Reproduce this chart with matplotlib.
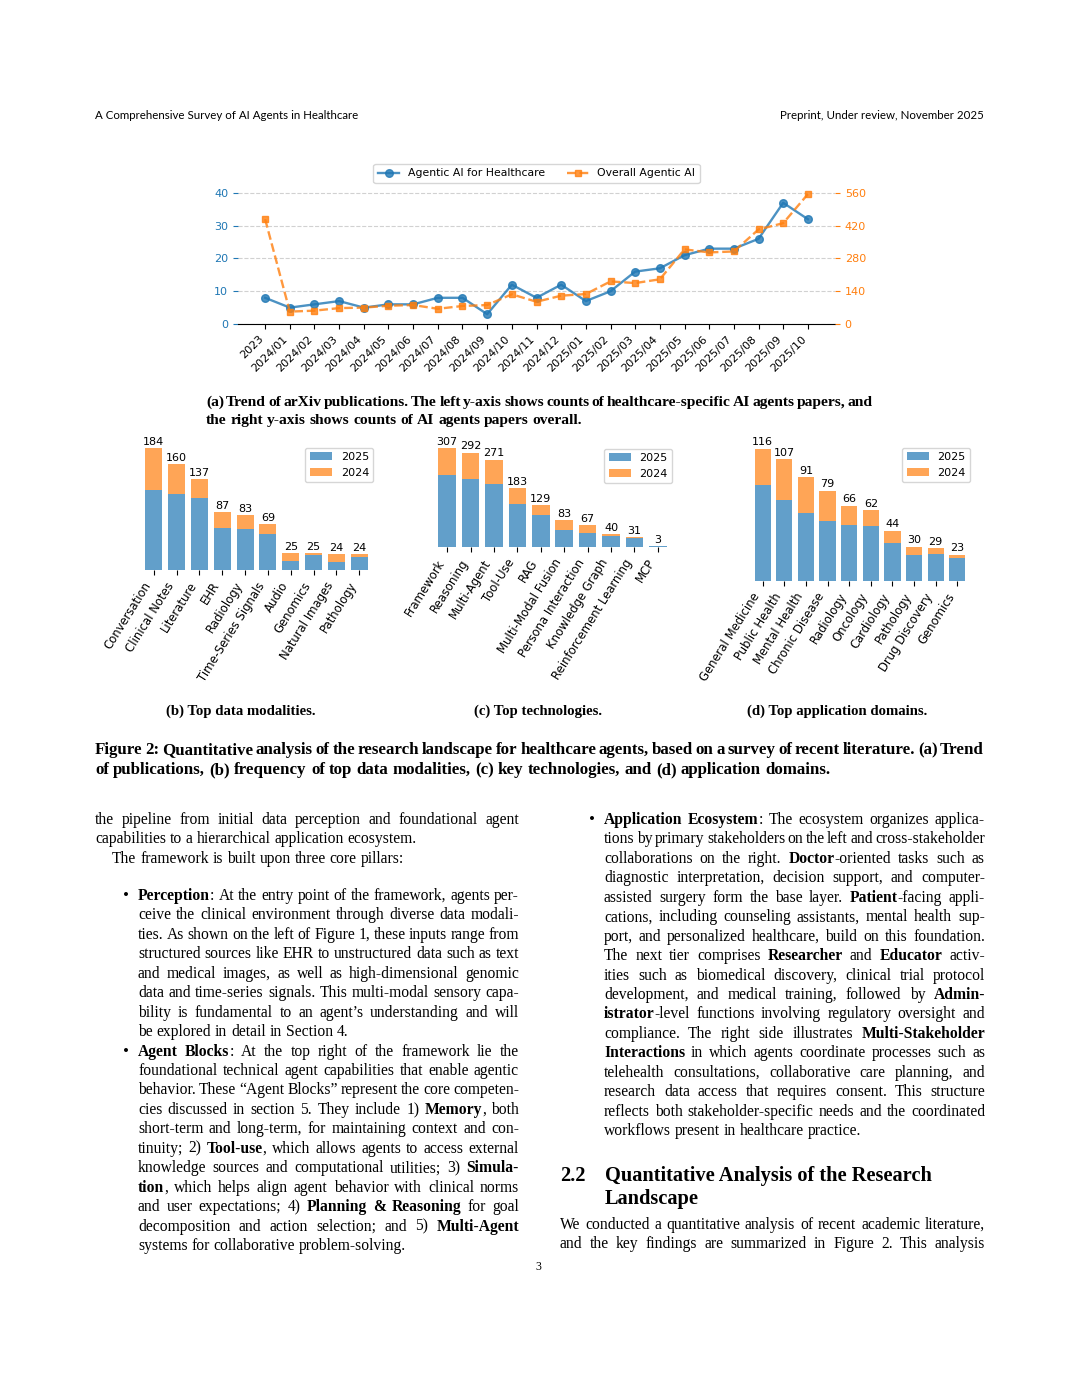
"""
Page 3 of the healthcare agents survey: Figure 2 (publication trend plus three
stacked bar charts) with the surrounding body text.
"""

import numpy as np
import matplotlib.pyplot as plt
from matplotlib import font_manager
from matplotlib.font_manager import FontProperties

# -----------------------------
# DATA
# -----------------------------
months = ['2023', '2024/01', '2024/02', '2024/03', '2024/04', '2024/05', '2024/06',
          '2024/07', '2024/08', '2024/09', '2024/10', '2024/11', '2024/12',
          '2025/01', '2025/02', '2025/03', '2025/04', '2025/05', '2025/06',
          '2025/07', '2025/08', '2025/09', '2025/10']
healthcare_papers = [8, 5, 6, 7, 5, 6, 6, 8, 8, 3, 12, 8, 12,
                     7, 10, 16, 17, 21, 23, 23, 26, 37, 32]
overall_papers = [448, 53, 57, 68, 70, 78, 81, 65, 77, 81, 127, 95, 121,
                  128, 182, 175, 191, 319, 306, 310, 404, 431, 555]

modalities = ['Conversation', 'Clinical Notes', 'Literature', 'EHR', 'Radiology',
              'Time-Series Signals', 'Audio', 'Genomics', 'Natural Images', 'Pathology']
modalities_2025 = [120, 115, 109, 64, 62, 54, 14, 22, 12, 19]
modalities_2024 = [64, 45, 28, 23, 21, 15, 11, 3, 12, 5]

technologies = ['Framework', 'Reasoning', 'Multi-Agent', 'Tool-Use', 'RAG',
                'Multi-Modal Fusion', 'Persona Interaction', 'Knowledge Graph',
                'Reinforcement Learning', 'MCP']
technologies_2025 = [222, 212, 196, 133, 98, 54, 43, 33, 27, 2]
technologies_2024 = [85, 80, 75, 50, 31, 29, 24, 7, 4, 1]

domains = ['General Medicine', 'Public Health', 'Mental Health', 'Chronic Disease',
           'Radiology', 'Oncology', 'Cardiology', 'Pathology', 'Drug Discovery', 'Genomics']
domains_2025 = [84, 71, 60, 53, 49, 48, 33, 23, 24, 20]
domains_2024 = [32, 36, 31, 26, 17, 14, 11, 7, 5, 3]

# -----------------------------
# TEXT (** toggles bold)
# -----------------------------
header_left = 'A Comprehensive Survey of AI Agents in Healthcare'
header_right = 'Preprint, Under review, November 2025'

caption_a = ['(a) Trend of arXiv publications. The left y-axis shows counts of '
             'healthcare-specific AI agents papers, and',
             'the right y-axis shows counts of AI agents papers overall.']
subcaptions = ['(b) Top data modalities.', '(c) Top technologies.',
               '(d) Top application domains.']
figure_caption = ['Figure 2: Quantitative analysis of the research landscape for healthcare '
                  'agents, based on a survey of recent literature. (a) Trend',
                  'of publications, (b) frequency of top data modalities, (c) key '
                  'technologies, and (d) application domains.']

intro_lines = ['the pipeline from initial data perception and foundational agent',
               'capabilities to a hierarchical application ecosystem.']
pillars_line = 'The framework is built upon three core pillars:'

perception_lines = [
    '**Perception**: At the entry point of the framework, agents per-',
    'ceive the clinical environment through diverse data modali-',
    'ties. As shown on the left of Figure 1, these inputs range from',
    'structured sources like EHR to unstructured data such as text',
    'and medical images, as well as high-dimensional genomic',
    'data and time-series signals. This multi-modal sensory capa-',
    'bility is fundamental to an agent’s understanding and will',
    'be explored in detail in Section 4.',
]
blocks_lines = [
    '**Agent Blocks**: At the top right of the framework lie the',
    'foundational technical agent capabilities that enable agentic',
    'behavior. These “Agent Blocks” represent the core competen-',
    'cies discussed in section 5. They include 1) **Memory**, both',
    'short-term and long-term, for maintaining context and con-',
    'tinuity; 2) **Tool-use**, which allows agents to access external',
    'knowledge sources and computational utilities; 3) **Simula-**',
    '**tion**, which helps align agent behavior with clinical norms',
    'and user expectations; 4) **Planning & Reasoning** for goal',
    'decomposition and action selection; and 5) **Multi-Agent**',
    'systems for collaborative problem-solving.',
]
ecosystem_lines = [
    '**Application Ecosystem**: The ecosystem organizes applica-',
    'tions by primary stakeholders on the left and cross-stakeholder',
    'collaborations on the right. **Doctor**-oriented tasks such as',
    'diagnostic interpretation, decision support, and computer-',
    'assisted surgery form the base layer. **Patient**-facing appli-',
    'cations, including counseling assistants, mental health sup-',
    'port, and personalized healthcare, build on this foundation.',
    'The next tier comprises **Researcher** and **Educator** activ-',
    'ities such as biomedical discovery, clinical trial protocol',
    'development, and medical training, followed by **Admin-**',
    '**istrator**-level functions involving regulatory oversight and',
    'compliance. The right side illustrates **Multi-Stakeholder**',
    '**Interactions** in which agents coordinate processes such as',
    'telehealth consultations, collaborative care planning, and',
    'research data access that requires consent. This structure',
    'reflects both stakeholder-specific needs and the coordinated',
    'workflows present in healthcare practice.',
]
section_number = '2.2'
section_title = ['Quantitative Analysis of the Research', 'Landscape']
section_lines = ['We conducted a quantitative analysis of recent academic literature,',
                 'and the key findings are summarized in Figure 2. This analysis']

# -----------------------------
# PAGE SETUP
# -----------------------------
W_PX, H_PX = 1080, 1398
SERIF = 'Liberation Serif'
installed = {f.name for f in font_manager.fontManager.ttflist}
SANS = 'Liberation Sans Narrow' if 'Liberation Sans Narrow' in installed else 'Lato'
BLUE, ORANGE = 'tab:blue', 'tab:orange'

fig = plt.figure(figsize=(W_PX / 100, H_PX / 100), dpi=100)
renderer = fig.canvas.get_renderer()


def fx(x):
    return x / W_PX


def fy(y):
    return 1 - y / H_PX


def box(x0, y0, x1, y1):
    """Axes rectangle from pixel edges (y measured from the top)."""
    return [fx(x0), fy(y1), (x1 - x0) / W_PX, (y1 - y0) / H_PX]


def text_w(s, size, bold=False, family=SERIF):
    prop = FontProperties(family=family, size=size, weight='bold' if bold else 'normal')
    w, _, _ = renderer.get_text_width_height_descent(s, prop, ismath=False)
    return w


def space_w(size, bold=False):
    return text_w('a a', size, bold) - text_w('aa', size, bold)


def parse_words(line, bold_all=False):
    words = [[]]
    bold = bold_all
    for i, part in enumerate(line.split('**')):
        if i > 0:
            bold = not bold
        for j, chunk in enumerate(part.split(' ')):
            if j > 0:
                words.append([])
            if chunk:
                words[-1].append((chunk, bold))
    return [w for w in words if w]


def line_size(line, width, size, bold_all=False, min_gap=0.62):
    words = parse_words(line, bold_all)
    natural = sum(text_w(p, size, b) for w in words for p, b in w)
    need = natural + min_gap * space_w(size, bold_all) * (len(words) - 1)
    return size * min(1.0, width / need)


def draw_line(line, x0, x1, y, size, justify, bold_all=False):
    words = parse_words(line, bold_all)
    widths = [[text_w(p, size, b) for p, b in w] for w in words]
    natural = sum(map(sum, widths))
    gap = space_w(size, bold_all)
    if justify and len(words) > 1:
        gap = (x1 - x0 - natural) / (len(words) - 1)
    x = x0
    for w, ws in zip(words, widths):
        for (piece, bold), pw in zip(w, ws):
            fig.text(fx(x), fy(y), piece, fontsize=size, family=SERIF,
                     weight='bold' if bold else 'normal', va='baseline', ha='left')
            x += pw
        x += gap


def draw_block(lines, x0, x1, y0, step, size, bold_all=False, justify_last=False,
               fit=True):
    if fit:
        size = min(line_size(l, x1 - x0, size, bold_all) for l in lines)
    for i, l in enumerate(lines):
        last = i == len(lines) - 1
        draw_line(l, x0, x1, y0 + i * step, size, justify=(not last) or justify_last,
                  bold_all=bold_all)
    return size


def fit_size(s, width, bold=False, family=SERIF):
    return 10 * width / text_w(s, 10, bold, family)


# -----------------------------
# (a) TREND OF PUBLICATIONS
# -----------------------------
ax = fig.add_axes(box(238, 189.7, 835, 324))
x = np.arange(len(months))
ax.plot(x, healthcare_papers, color=BLUE, marker='o', ms=5.5, lw=1.7, alpha=0.8,
        label='Agentic AI for Healthcare', clip_on=False, zorder=3)
ax.set_ylim(0, 41)
ax.set_yticks([0, 10, 20, 30, 40])
ax.grid(axis='y', ls='--', color='0.82', lw=0.8)
ax.set_axisbelow(True)
ax.set_xticks(x, months, rotation=45, ha='right', fontsize=8)
ax.tick_params(axis='y', colors=BLUE, labelsize=8)
for side in ['top', 'right', 'left']:
    ax.spines[side].set_visible(False)

ax2 = ax.twinx()
ax2.plot(x, overall_papers, color=ORANGE, ls='--', marker='s', ms=5, lw=1.7, alpha=0.8,
         label='Overall Agentic AI', clip_on=False, zorder=3)
ax2.set_ylim(0, 574)
ax2.set_yticks([0, 140, 280, 420, 560])
ax2.tick_params(axis='y', colors=ORANGE, labelsize=8)
for spine in ax2.spines.values():
    spine.set_visible(False)

h1, l1 = ax.get_legend_handles_labels()
h2, l2 = ax2.get_legend_handles_labels()
fig.legend(h1 + h2, l1 + l2, loc='center', bbox_to_anchor=(fx(536.5), fy(173.5)),
           ncol=2, fontsize=7.8)


# -----------------------------
# (b)-(d) STACKED BARS
# -----------------------------
def stacked_bars(rect, names, counts_2025, counts_2024):
    axb = fig.add_axes(rect)
    pos = np.arange(len(names))
    axb.bar(pos, counts_2025, width=0.75, color=BLUE, alpha=0.7, label='2025')
    top = axb.bar(pos, counts_2024, width=0.75, bottom=counts_2025, color=ORANGE,
                  alpha=0.7, label='2024')
    totals = [a + b for a, b in zip(counts_2025, counts_2024)]
    axb.bar_label(top, labels=totals, padding=1, fontsize=8)
    axb.set_xticks(pos, names, rotation=58, ha='right', fontsize=8.4)
    axb.set_yticks([])
    for spine in axb.spines.values():
        spine.set_visible(False)
    axb.legend(loc='upper right', fontsize=8)
    return axb


stacked_bars(box(134, 442, 379, 570), modalities, modalities_2025, modalities_2024)
stacked_bars(box(427, 443, 678, 547), technologies, technologies_2025, technologies_2024)
stacked_bars(box(744, 442, 976, 581), domains, domains_2025, domains_2024)

# -----------------------------
# CAPTIONS AND PAGE TEXT
# -----------------------------
size = fit_size(header_left, 263, family=SANS)
fig.text(fx(95), fy(119), header_left, fontsize=size, family=SANS, va='baseline')
fig.text(fx(984), fy(119), header_right, fontsize=size, family=SANS, va='baseline',
         ha='right')

draw_block(caption_a, 206, 873, 406, 18, 11.8, bold_all=True)

sub_size = fit_size(subcaptions[0], 150, bold=True)
for cx, s in zip([241, 538, 837], subcaptions):
    fig.text(fx(cx), fy(715), s, fontsize=sub_size, family=SERIF, weight='bold',
             va='baseline', ha='center')

draw_block(figure_caption, 95, 984, 754, 20, 12.8, bold_all=True)

# one body size for the whole page, small enough for the tightest line
STEP = 19.45
column_lines = ([(l, 424) for l in intro_lines] +
                [(l, 381) for l in perception_lines + blocks_lines + ecosystem_lines] +
                [(l, 425) for l in section_lines])
body = min(line_size(l, w, 12.6) for l, w in column_lines)

draw_block(intro_lines, 95, 519, 824, STEP, body, fit=False)
draw_line(pillars_line, 112, 519, 824 + 2 * STEP, body, justify=False)

fig.text(fx(123), fy(900), '•', fontsize=body + 1, family=SERIF, va='baseline')
draw_block(perception_lines, 138, 519, 900, STEP, body, fit=False)
fig.text(fx(123), fy(900 + 8 * STEP), '•', fontsize=body + 1, family=SERIF,
         va='baseline')
draw_block(blocks_lines, 138, 519, 900 + 8 * STEP, STEP, body, fit=False)

fig.text(fx(589), fy(824), '•', fontsize=body + 1, family=SERIF, va='baseline')
draw_block(ecosystem_lines, 604, 985, 824, STEP, body, fit=False)

head_size = fit_size(section_title[0], 329, bold=True)
fig.text(fx(560), fy(1181), section_number, fontsize=head_size, family=SERIF,
         weight='bold', va='baseline')
fig.text(fx(605), fy(1181), section_title[0], fontsize=head_size, family=SERIF,
         weight='bold', va='baseline')
fig.text(fx(605), fy(1204), section_title[1], fontsize=head_size, family=SERIF,
         weight='bold', va='baseline')
draw_block(section_lines, 560, 985, 1229, STEP, body, justify_last=True, fit=False)

fig.text(fx(538), fy(1270), '3', fontsize=8.5, family=SERIF, va='baseline', ha='center')

fig.savefig('out.png', dpi=100)
